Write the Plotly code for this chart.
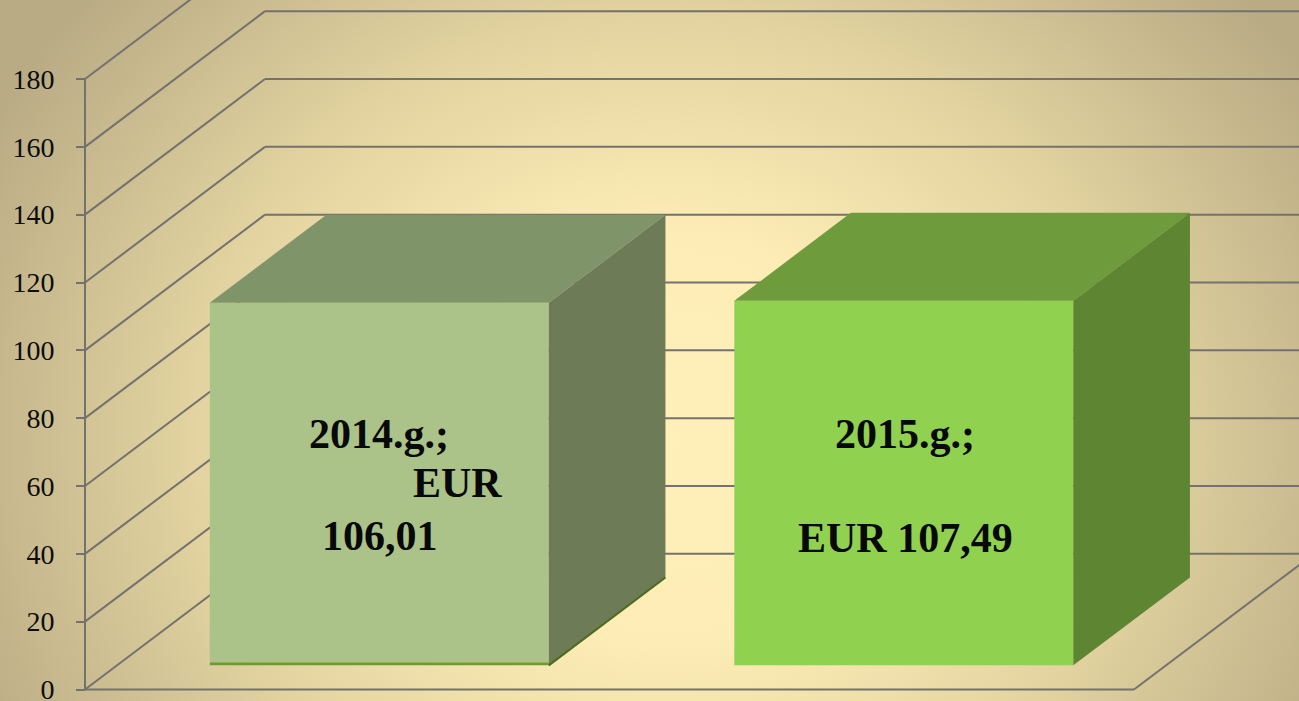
import base64
import plotly.graph_objects as go

# ---- data ----
years = ["2014.g.;", "2015.g.;"]
values = [106.01, 107.49]
sliver = [0.9, 0.0]
tick_values = [0, 20, 40, 60, 80, 100, 120, 140, 160, 180]
positions = [0, 1]

# ---- styling / oblique projection (in axis units) ----
FONT = "Liberation Serif"
LINE = "#73726e"
DEPTH_X = 180 / 524.5
DEPTH_Y = 40
BAR_W = 339 / 524.5
D_FRONT = 0.178
D_LEN = 0.648
front_col = ["#abc388", "#90d250"]
top_col = ["#80946a", "#6e9b3c"]
side_col = ["#6d7b57", "#5e8531"]
PX_PER_UNIT = (689.5 - 79) / 180
W, H = 1299, 730  # page crops at 701; extra height keeps the "0" label inside the figure
X0, PX_PER_CAT = 85, 524.5

x_at = lambda px: -0.5 + (px - X0) / PX_PER_CAT
y_at = lambda py: (689.5 - py) / PX_PER_UNIT

svg = f'''<svg xmlns="http://www.w3.org/2000/svg" width="{W}" height="{H}">
<defs><radialGradient id="g" gradientUnits="userSpaceOnUse" cx="0" cy="0" r="1"
 gradientTransform="translate(665 440) scale(760 680)">
<stop offset="0" stop-color="#ffefb8"/><stop offset="0.3" stop-color="#fdecb5"/>
<stop offset="0.62" stop-color="#e2d3a0"/><stop offset="1" stop-color="#b9ab84"/>
</radialGradient></defs><rect width="{W}" height="{H}" fill="url(#g)"/></svg>'''
bg = "data:image/svg+xml;base64," + base64.b64encode(svg.encode()).decode()

fig = go.Figure()
left = -0.5
right = 1.5
shapes = []


def seg(x0, y0, x1, y1):
    shapes.append(dict(type="line", xref="x", yref="y", x0=x0, y0=y0, x1=x1, y1=y1,
                       layer="below", line=dict(color=LINE, width=2)))


# walls and floor
seg(left, 0, left, tick_values[-1])
seg(left, 0, right, 0)
seg(right, 0, right + DEPTH_X, DEPTH_Y)
for t in tick_values:
    seg(left, t, left + DEPTH_X, t + DEPTH_Y)
    seg(left + DEPTH_X, t + DEPTH_Y, right + DEPTH_X, t + DEPTH_Y)

# bars: front faces
for i, v in enumerate(values):
    x0 = positions[i] + D_FRONT * DEPTH_X
    base = D_FRONT * DEPTH_Y
    if sliver[i]:
        fig.add_trace(go.Bar(x=[x0], y=[sliver[i]], base=[base], width=[BAR_W],
                             marker=dict(color="#6f9a2e", line_width=0), showlegend=False))
    fig.add_trace(go.Bar(x=[x0], y=[v], base=[base + sliver[i]], width=[BAR_W],
                         marker=dict(color=front_col[i], line_width=0), showlegend=False,
                         name=years[i]))

# bars: top and side faces
for i, v in enumerate(values):
    xl = positions[i] + D_FRONT * DEPTH_X - BAR_W / 2
    xr = xl + BAR_W
    yb = D_FRONT * DEPTH_Y
    yt = yb + sliver[i] + v
    dx, dy = D_LEN * DEPTH_X, D_LEN * DEPTH_Y
    fig.add_trace(go.Scatter(x=[xl, xr, xr + dx, xl + dx, xl], y=[yt, yt, yt + dy, yt + dy, yt],
                             mode="lines", fill="toself", fillcolor=top_col[i], line_width=0,
                             showlegend=False, hoverinfo="skip"))
    fig.add_trace(go.Scatter(x=[xr, xr + dx, xr + dx, xr, xr], y=[yb, yb + dy, yt + dy, yt, yb],
                             mode="lines", fill="toself", fillcolor=side_col[i], line_width=0,
                             showlegend=False, hoverinfo="skip"))
    if sliver[i]:
        fig.add_trace(go.Scatter(x=[xr, xr + dx], y=[yb, yb + dy], mode="lines",
                                 line=dict(color="#4c6b1c", width=2), showlegend=False,
                                 hoverinfo="skip"))

labels = [
    ("2014.g.;", 379, 434),
    ("EUR", 457, 483),
    ("106,01", 380, 536),
    ("2015.g.;", 905, 434),
    ("EUR 107,49", 905, 538),
]
annotations = [
    dict(text=t, x=x_at(px), y=y_at(py), xref="x", yref="y", showarrow=False,
         xanchor="center", yanchor="middle",
         font=dict(family=FONT, size=42, color="#080808", weight="bold"))
    for t, px, py in labels
]

fig.update_layout(
    width=W, height=H, autosize=False,
    margin=dict(l=0, r=0, t=0, b=0),
    paper_bgcolor="#e2d3a0", plot_bgcolor="rgba(0,0,0,0)",
    barmode="overlay", shapes=shapes, annotations=annotations, showlegend=False,
    images=[dict(source=bg, xref="paper", yref="paper", x=0, y=1, sizex=1, sizey=1,
                 sizing="stretch", xanchor="left", yanchor="top", layer="below")],
    xaxis=dict(visible=False, range=[x_at(0), x_at(W)], domain=[0, 1]),
    yaxis=dict(range=[y_at(H), y_at(0)], domain=[0, 1], anchor="free", position=X0 / W,
               tickmode="array", tickvals=tick_values, ticktext=[str(t) for t in tick_values],
               showgrid=False, zeroline=False, showline=False,
               ticks="outside", ticklen=9, tickwidth=2, tickcolor=LINE,
               ticklabelstandoff=16,
               tickfont=dict(family=FONT, size=28, color="#0c0c0c")),
)
fig.write_html("out.html", config={"displayModeBar": False},
               post_script="document.body.style.margin='0';document.documentElement.style.overflow='hidden';document.body.style.overflow='hidden';")
